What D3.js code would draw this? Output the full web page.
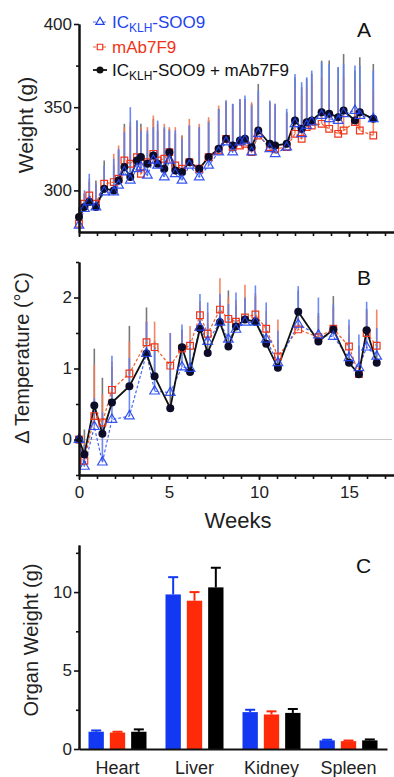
<!DOCTYPE html>
<html>
<head>
<meta charset="utf-8">
<script src="https://cdn.jsdelivr.net/npm/d3@7"></script>
<style>
  html, body { margin: 0; padding: 0; background: #fff; }
  svg { display: block; font-family: "Liberation Sans", Arial, sans-serif; }
</style>
</head>
<body>
<svg id="chart" width="394" height="777"></svg>
<script>
// ---- Panel A: body weight (g) ----
const weeksA = [0, 0.3, 0.57, 0.94, 1.4, 1.93, 2.2, 2.52, 2.85, 3.22, 3.44, 3.8, 4.13, 4.37, 4.74, 5.02,
  5.35, 5.72, 6.13, 6.68, 7.2, 7.76, 8.17, 8.54, 8.94, 9.22, 9.59, 9.96, 10.6, 10.9, 11.54, 12.0,
  12.37, 12.65, 12.93, 13.48, 13.9, 14.4, 14.7, 15.33, 15.6, 16.35];
const weightBlue = [279, 289, 293, 290, 299, 299, 303, 311, 306, 313, 314, 309, 318, 315, 308, 318,
  310, 306, 315, 308, 315, 323, 329, 323, 329, 330, 323, 334, 325, 322, 326, 340,
  334, 339, 341, 345, 343, 342, 346, 348, 345, 343];
const weightRed = [280, 292, 297, 292, 304, 305, 307, 318, 316, 320, 310, 317, 322, 318, 319, 323,
  315, 313, 317, 313, 320, 324, 331, 326, 327, 328, 323, 333, 326, 325, 326, 334,
  331, 338, 339, 340, 337, 334, 336, 341, 336, 333];
const weightBlack = [284, 290, 293, 290, 301, 300, 306, 314, 308, 318, 320, 316, 321, 316, 313, 323,
  312, 311, 317, 313, 320, 325, 331, 327, 330, 331, 326, 336, 328, 327, 328, 342,
  337, 341, 342, 347, 346, 344, 348, 342, 347, 343];
const weightErrBlue = [8, 11, 17, 14, 16, 20, 22, 24, 44, 29, 22, 27, 20, 27, 30, 18,
  26, 25, 24, 30, 26, 26, 25, 29, 26, 27, 28, 26, 29, 30, 23, 30,
  31, 29, 31, 32, 33, 32, 30, 27, 30, 29];
const weightErrRed = [6, 6, 10, 12, 10, 17, 20, 20, 25, 18, 28, 21, 23, 22, 21, 15,
  23, 20, 26, 27, 24, 27, 23, 24, 28, 25, 30, 24, 27, 27, 20, 28,
  26, 24, 26, 28, 30, 30, 32, 25, 28, 27];
const weightErrBlack = [6, 8, 12, 16, 17, 15, 18, 26, 30, 24, 20, 18, 22, 20, 24, 14,
  22, 22, 22, 25, 22, 24, 22, 25, 24, 24, 26, 28, 25, 24, 19, 26,
  25, 26, 28, 31, 32, 30, 34, 30, 33, 33];

// ---- Panel B: change in temperature (°C) ----
const weeksB = [0, 0.3, 0.85, 1.3, 1.83, 2.8, 3.75, 4.2, 5.07, 5.72, 6.17, 6.72, 7.15, 7.83,
  8.3, 8.72, 9.22, 9.8, 10.4, 11.05, 12.18, 13.3, 14.13, 15.0, 15.55, 15.98, 16.54];
const tempBlue = [0, -0.38, 0.18, -0.32, 0.28, 0.33, 1.21, 0.68, 0.66, 1.02, 1.0, 1.58, 1.38, 1.65,
  1.41, 1.55, 1.65, 1.65, 1.41, 1.08, 1.62, 1.47, 1.45, 1.15, 1.01, 1.30, 1.17];
const tempRed = [0, -0.3, 0.33, 0.24, 0.70, 0.93, 1.37, 1.30, 1.04, 1.28, 1.32, 1.75, 1.49, 1.83,
  1.70, 1.66, 1.72, 1.76, 1.56, 1.17, 1.55, 1.44, 1.56, 1.31, 0.92, 1.50, 1.32];
const tempBlack = [0, -0.21, 0.48, 0.08, 0.52, 0.75, 1.21, 0.89, 0.44, 1.30, 0.95, 1.56, 1.22, 1.65,
  1.31, 1.59, 1.69, 1.66, 1.35, 1.01, 1.80, 1.38, 1.55, 1.08, 0.92, 1.54, 1.08];
const tempErrBlue = [0.05, 0.3, 0.4, 0.7, 0.9, 0.82, 0.45, 0.6, 0.84, 0.6, 0.4, 0.47, 0.55, 0.4,
  0.5, 0.52, 0.35, 0.52, 0.52, 0.45, 0.54, 0.53, 0.45, 0.54, 0.47, 0.64, 0.4];
const tempErrRed = [0.05, 0.25, 0.72, 0.4, 0.4, 0.45, 0.3, 0.36, 0.46, 0.25, 0.28, 0.2, 0.3, 0.44,
  0.3, 0.3, 0.46, 0.3, 0.25, 0.52, 0.3, 0.3, 0.3, 0.3, 0.3, 0.3, 0.51];
const tempErrBlack = [0.08, 0.35, 0.8, 0.79, 0.5, 0.85, 0.65, 0.5, 0.6, 0.25, 0.35, 0.3, 0.4, 0.3,
  0.79, 0.3, 0.3, 0.35, 0.3, 0.4, 0.3, 0.4, 0.47, 0.4, 0.4, 0.3, 0.3];

// ---- Panel C: organ weight (g) ----
const organs = ["Heart", "Liver", "Kidney", "Spleen"];
const groups = ["blue", "red", "black"];
const organBlue = [1.1, 9.85, 2.35, 0.55];
const organRed = [1.05, 9.45, 2.2, 0.5];
const organBlack = [1.1, 10.3, 2.3, 0.55];
const organErrBlue = [0.08, 1.1, 0.15, 0.04];
const organErrRed = [0.05, 0.55, 0.2, 0.04];
const organErrBlack = [0.15, 1.25, 0.25, 0.06];

const colors = { blue: "#2244ee", red: "#f03418", black: "#111" };
const barColors = { blue: "#1238f2", red: "#ff2a08", black: "#000" };
const errColors = { blue: "#5b7ff2", red: "#f07a55", black: "#6a6a6a" };

const svg = d3.select("#chart");

const xW = d3.scaleLinear().domain([0, 17.5]).range([79, 394]);
const yA = d3.scaleLinear().domain([275, 400]).range([232, 24]);
const yB = d3.scaleLinear().domain([-0.5, 2.5]).range([475, 262]);
const yC = d3.scaleLinear().domain([0, 13]).range([749, 545]);

function styleAxis(g) {
  g.select(".domain").attr("stroke", "#111").attr("stroke-width", 2);
  g.selectAll(".tick line").attr("stroke", "#111").attr("stroke-width", 1.6);
  g.selectAll(".tick text").attr("font-size", 17).attr("fill", "#222")
    .attr("font-family", "Liberation Sans, Arial, sans-serif");
}

function yAxis(scale, major, minor, fmt) {
  svg.append("g").attr("transform", "translate(79,0)")
    .call(d3.axisLeft(scale).tickValues(minor).tickSize(3).tickSizeOuter(0).tickFormat(""))
    .call(styleAxis);
  svg.append("g").attr("transform", "translate(79,0)")
    .call(d3.axisLeft(scale).tickValues(major).tickSize(5).tickPadding(2).tickSizeOuter(0).tickFormat(fmt))
    .call(styleAxis);
}

function weekAxis(y, labels) {
  svg.append("g").attr("transform", `translate(0,${y})`)
    .call(d3.axisBottom(xW).tickValues(d3.range(0, 18)).tickSize(4).tickSizeOuter(0).tickFormat(""))
    .call(styleAxis);
  svg.append("g").attr("transform", `translate(0,${y})`)
    .call(d3.axisBottom(xW).tickValues([0, 5, 10, 15]).tickSize(5).tickPadding(6).tickSizeOuter(0)
      .tickFormat(labels ? d3.format("d") : ""))
    .call(styleAxis);
}

const series = (weeks, vals, errs, key) => weeks.map((w, i) => ({ w, v: vals[i], e: errs[i], key }));

function drawPanel(weeks, data, yScale) {
  // error bars (upper only)
  ["black", "red", "blue"].forEach(k => {
    svg.append("g").selectAll("line").data(data[k]).join("line")
      .attr("x1", d => xW(d.w)).attr("x2", d => xW(d.w))
      .attr("y1", d => yScale(d.v)).attr("y2", d => yScale(d.v + d.e))
      .attr("stroke", errColors[k]).attr("stroke-width", 1.6).attr("opacity", 0.9);
  });
  const line = d3.line().x(d => xW(d.w)).y(d => yScale(d.v));
  svg.append("path").datum(data.red).attr("d", line).attr("fill", "none")
    .attr("stroke", "#f0602a").attr("stroke-width", 1.2).attr("stroke-dasharray", "3,2");
  svg.append("path").datum(data.blue).attr("d", line).attr("fill", "none")
    .attr("stroke", "#4a68f0").attr("stroke-width", 1.2).attr("stroke-dasharray", "3,2");
  svg.append("path").datum(data.black).attr("d", line).attr("fill", "none")
    .attr("stroke", "#111").attr("stroke-width", 1.8);
  svg.append("g").selectAll("path").data(data.red).join("path")
    .attr("transform", d => `translate(${xW(d.w)},${yScale(d.v)})`)
    .attr("d", d3.symbol(d3.symbolSquare, 44)).attr("fill", "none")
    .attr("stroke", colors.red).attr("stroke-width", 1.2);
  svg.append("g").selectAll("circle").data(data.black).join("circle")
    .attr("cx", d => xW(d.w)).attr("cy", d => yScale(d.v)).attr("r", 4)
    .attr("fill", "#0c0c28");
  svg.append("g").selectAll("path").data(data.blue).join("path")
    .attr("transform", d => `translate(${xW(d.w)},${yScale(d.v)})`)
    .attr("d", d3.symbol(d3.symbolTriangle, 40)).attr("fill", "none")
    .attr("stroke", colors.blue).attr("stroke-width", 1.2).attr("opacity", 0.9);
}

// ---------- Panel A ----------
drawPanel(weeksA, {
  blue: series(weeksA, weightBlue, weightErrBlue, "blue"),
  red: series(weeksA, weightRed, weightErrRed, "red"),
  black: series(weeksA, weightBlack, weightErrBlack, "black")
}, yA);
yAxis(yA, [300, 350, 400], [325, 375], d3.format("d"));
weekAxis(232, false);

svg.append("text").attr("transform", "translate(33,125) rotate(-90)")
  .attr("text-anchor", "middle").attr("font-size", 21).attr("fill", "#222").text("Weight (g)");
svg.append("text").attr("x", 357).attr("y", 37).attr("font-size", 21).attr("fill", "#111").text("A");

// legend
const legend = [
  { key: "blue", y: 28, sym: "tri", parts: [["IC", 17], ["KLH", 12, 4], ["-SOO9", 17, -4]] },
  { key: "red", y: 53, sym: "sq", parts: [["mAb7F9", 17]] },
  { key: "black", y: 76, sym: "dot", parts: [["IC", 17], ["KLH", 12, 4], ["-SOO9 + mAb7F9", 17, -4]] }
];
legend.forEach(l => {
  const my = l.y - 6;
  svg.append("line").attr("x1", 93).attr("x2", 107).attr("y1", my).attr("y2", my)
    .attr("stroke", l.key === "black" ? "#111" : (l.key === "red" ? "#f0602a" : "#4a68f0"))
    .attr("stroke-width", l.key === "black" ? 1.8 : 1.2)
    .attr("stroke-dasharray", l.key === "black" ? null : "3,2");
  if (l.sym === "tri") {
    svg.append("path").attr("transform", `translate(100,${my})`).attr("d", d3.symbol(d3.symbolTriangle, 30))
      .attr("fill", "#fff").attr("stroke", colors.blue).attr("stroke-width", 1.2);
  } else if (l.sym === "sq") {
    svg.append("path").attr("transform", `translate(100,${my})`).attr("d", d3.symbol(d3.symbolSquare, 30))
      .attr("fill", "#fff").attr("stroke", colors.red).attr("stroke-width", 1.2);
  } else {
    svg.append("circle").attr("cx", 100).attr("cy", my).attr("r", 3.5).attr("fill", "#111");
  }
  const t = svg.append("text").attr("x", 112).attr("y", l.y)
    .attr("fill", l.key === "black" ? "#111" : colors[l.key]);
  l.parts.forEach(p => {
    const ts = t.append("tspan").attr("font-size", p[1]).text(p[0]);
    if (p[2]) ts.attr("dy", p[2]);
  });
});

// ---------- Panel B ----------
svg.append("line").attr("x1", xW(0)).attr("x2", 392).attr("y1", yB(0)).attr("y2", yB(0))
  .attr("stroke", "#c8c8c8").attr("stroke-width", 1);
drawPanel(weeksB, {
  blue: series(weeksB, tempBlue, tempErrBlue, "blue"),
  red: series(weeksB, tempRed, tempErrRed, "red"),
  black: series(weeksB, tempBlack, tempErrBlack, "black")
}, yB);
yAxis(yB, [0, 1, 2], [-0.5, 0.5, 1.5, 2.5], d3.format("d"));
weekAxis(475, true);

svg.append("text").attr("transform", "translate(29,358) rotate(-90)")
  .attr("text-anchor", "middle").attr("font-size", 20).attr("fill", "#222").text("Δ Temperature (°C)");
svg.append("text").attr("x", 357).attr("y", 285).attr("font-size", 21).attr("fill", "#111").text("B");
svg.append("text").attr("x", 238).attr("y", 528).attr("text-anchor", "middle")
  .attr("font-size", 22).attr("fill", "#222").text("Weeks");

// ---------- Panel C ----------
const xC = d3.scaleBand().domain(organs).range([79, 387]);
const xSub = d3.scaleBand().domain(groups).range([-29, 29]).paddingInner(0.28);
const organVals = { blue: organBlue, red: organRed, black: organBlack };
const organErrs = { blue: organErrBlue, red: organErrRed, black: organErrBlack };
const bars = [];
organs.forEach((o, i) => groups.forEach(g => bars.push({ o, g, v: organVals[g][i], e: organErrs[g][i] })));
const bx = d => xC(d.o) + xC.bandwidth() / 2 + xSub(d.g);

svg.append("g").selectAll("line").data(bars).join("line")
  .attr("x1", d => bx(d) + xSub.bandwidth() / 2).attr("x2", d => bx(d) + xSub.bandwidth() / 2)
  .attr("y1", d => yC(d.v)).attr("y2", d => yC(d.v + d.e))
  .attr("stroke", d => barColors[d.g]).attr("stroke-width", 2);
svg.append("g").selectAll("line").data(bars).join("line")
  .attr("x1", d => bx(d) + xSub.bandwidth() / 2 - 5).attr("x2", d => bx(d) + xSub.bandwidth() / 2 + 5)
  .attr("y1", d => yC(d.v + d.e)).attr("y2", d => yC(d.v + d.e))
  .attr("stroke", d => barColors[d.g]).attr("stroke-width", 2);
svg.append("g").selectAll("rect").data(bars).join("rect")
  .attr("x", bx).attr("width", xSub.bandwidth())
  .attr("y", d => yC(d.v)).attr("height", d => yC(0) - yC(d.v))
  .attr("fill", d => barColors[d.g]);

yAxis(yC, [0, 5, 10], [2.5, 7.5, 12.5], d3.format("d"));
svg.append("g").attr("transform", "translate(0,749)")
  .call(d3.axisBottom(xC).tickSize(0).tickPadding(12).tickSizeOuter(0))
  .call(styleAxis)
  .call(g => g.selectAll(".tick text").attr("font-size", 18));

svg.append("text").attr("transform", "translate(38,640) rotate(-90)")
  .attr("text-anchor", "middle").attr("font-size", 20).attr("fill", "#222").text("Organ Weight (g)");
svg.append("text").attr("x", 356).attr("y", 573).attr("font-size", 21).attr("fill", "#111").text("C");
</script>
</body>
</html>
